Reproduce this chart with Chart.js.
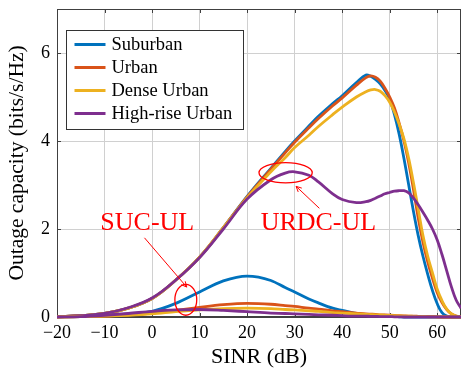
<!DOCTYPE html>
<html>
<head>
<meta charset="utf-8">
<script src="https://cdn.jsdelivr.net/npm/chart.js@4.4.0/dist/chart.umd.min.js"></script>
<style>
html, body { margin: 0; padding: 0; background: #fff; }
#wrap { width: 461px; height: 368px; }
</style>
</head>
<body>
<div id="wrap"><canvas id="chart"></canvas></div>
<script>
// SINR (dB) sample points shared by all curves
const sinr = [-20,-15,-10,-5,0,5,10,15,20,25,28,30,33,35,38,40,43,45,46,47,48,49,50,51,52,53,54,55,56,57,58,59,60,61,62,63,64,65];

const labels = ["Suburban", "Urban", "Dense Urban", "High-rise Urban"];
const colors = ["#0072BD", "#D95319", "#EDB120", "#7E2F8E"];

// URDC-UL (upper curves)
const urdcSuburban = [0.01,0.03,0.08,0.2,0.42, 0.84,1.36,2.03,2.74,3.38, 3.76,4.0,4.34,4.56,4.85, 5.03,5.33,5.5,5.47,5.4, 5.3,5.15,4.95,4.6,4.15, 3.6,3.0,2.4,1.85,1.38, 0.97,0.6,0.3,0.1,0.02, 0,0,0];
const urdcUrban    = [0.01,0.03,0.08,0.2,0.42, 0.84,1.36,2.03,2.73,3.36, 3.73,3.97,4.3,4.51,4.8, 4.98,5.27,5.44,5.48,5.45, 5.36,5.2,5.0,4.75,4.4, 4.0,3.5,2.9,2.25,1.7, 1.25,0.88,0.55,0.33,0.17, 0.07,0.02,0];
const urdcDense    = [0.01,0.03,0.08,0.2,0.42, 0.84,1.36,2.03,2.71,3.3, 3.62,3.85,4.13,4.33,4.6, 4.77,5.0,5.12,5.16,5.17, 5.13,5.03,4.88,4.66,4.38, 4.05,3.6,3.05,2.45,1.85, 1.38,1.0,0.63,0.37,0.18, 0.07,0.02,0];
const urdcHighrise = [0.01,0.03,0.08,0.21,0.43, 0.84,1.35,2.0,2.68,3.12, 3.27,3.3,3.22,3.07,2.8, 2.67,2.6,2.62,2.65,2.7, 2.75,2.8,2.83,2.86,2.87, 2.87,2.82,2.7,2.55,2.38, 2.2,2.0,1.75,1.42,1.05, 0.68,0.38,0.2];

// SUC-UL (lower curves)
const sucSuburban = [0,0.01,0.03,0.07,0.13, 0.31,0.57,0.82,0.93,0.83, 0.67,0.57,0.41,0.32,0.2, 0.15,0.08,0.05,0.04,0.03, 0.025,0.02,0.01,0.01,0.005, 0,0,0,0,0, 0,0,0,0,0, 0,0,0];
const sucUrban    = [0,0.01,0.02,0.05,0.09, 0.15,0.22,0.28,0.31,0.29, 0.26,0.24,0.2,0.18,0.14, 0.12,0.09,0.07,0.065,0.06, 0.05,0.045,0.04,0.035,0.03, 0.025,0.02,0.02,0.015,0.01, 0.01,0.01,0.005,0,0, 0,0,0];
const sucDense    = [0,0.01,0.02,0.04,0.07, 0.12,0.16,0.19,0.2,0.19, 0.17,0.16,0.14,0.13,0.1, 0.09,0.07,0.06,0.055,0.05, 0.045,0.04,0.035,0.03,0.025, 0.02,0.02,0.015,0.01,0.01, 0.005,0.005,0,0,0, 0,0,0];
const sucHighrise = [0,0.01,0.04,0.08,0.13, 0.16,0.17,0.15,0.12,0.09, 0.08,0.07,0.06,0.05,0.04, 0.03,0.02,0.02,0.015,0.015, 0.01,0.01,0.01,0.005,0.005, 0,0,0,0,0, 0,0,0,0,0, 0,0,0];

const xTicks = [-20,-10,0,10,20,30,40,50,60];
const yTicks = [0,2,4,6];

const SERIF = '"Liberation Serif", "Times New Roman", serif';
const RED = "#ff0000";

// red annotations, in data units
const notes = [
  { text: "SUC-UL", x: -1, y: 2.14, ex: 7.1, ey: 0.39, rx: 2.3, ry: 0.35, from: [-1.6, 1.8], to: [7.3, 0.68] },
  { text: "URDC-UL", x: 35, y: 2.14, ex: 28.1, ey: 3.28, rx: 5.6, ry: 0.23, from: [35.2, 2.47], to: [30.3, 2.97] }
];

const upper = [urdcSuburban, urdcUrban, urdcDense, urdcHighrise];
const lower = [sucSuburban, sucUrban, sucDense, sucHighrise];

function mkSet(ys, i, label, order, smooth) {
  return {
    label: label,
    data: sinr.map((x, j) => ({ x: x, y: ys[j] })),
    borderColor: colors[i],
    backgroundColor: colors[i],
    borderWidth: 2.8,
    pointRadius: 0,
    tension: 0.4,
    cubicInterpolationMode: smooth ? "default" : "monotone",
    clip: { left: 0, top: 0, right: 0, bottom: 3 },
    order: order
  };
}

const datasets = upper.map((ys, i) => mkSet(ys, i, labels[i], 8 - i, true))
  .concat(lower.map((ys, i) => mkSet(ys, i, "SUC " + labels[i], 4 - i, false)));

const fmt = v => (v < 0 ? "\u2212" + Math.abs(v) : String(v));

const framePlugin = {
  id: "frame",
  beforeDatasetsDraw(chart) {
    const { ctx, chartArea: a, scales } = chart;
    ctx.save();
    ctx.strokeStyle = "#404040";
    ctx.lineWidth = 1;
    ctx.strokeRect(a.left + 0.5, a.top + 0.5, a.right - a.left - 1, a.bottom - a.top - 1);
    ctx.beginPath();
    xTicks.forEach(v => {
      const px = Math.round(scales.x.getPixelForValue(v)) + 0.5;
      ctx.moveTo(px, a.bottom); ctx.lineTo(px, a.bottom - 4);
      ctx.moveTo(px, a.top); ctx.lineTo(px, a.top + 4);
    });
    yTicks.forEach(v => {
      const py = Math.round(scales.y.getPixelForValue(v)) + 0.5;
      ctx.moveTo(a.left, py); ctx.lineTo(a.left + 4, py);
      ctx.moveTo(a.right, py); ctx.lineTo(a.right - 4, py);
    });
    ctx.stroke();
    ctx.restore();
  },
  afterDatasetsDraw(chart) {
    const { ctx, chartArea: a, scales } = chart;
    const sx = scales.x, sy = scales.y;
    ctx.save();
    // legend box
    const bx = a.left + 9.5, by = a.top + 21.5, bw = 177, bh = 99;
    ctx.fillStyle = "#fff";
    ctx.fillRect(bx, by, bw, bh);
    ctx.strokeStyle = "#333";
    ctx.lineWidth = 1;
    ctx.strokeRect(bx, by, bw, bh);
    ctx.font = "18.5px " + SERIF;
    ctx.textBaseline = "middle";
    ctx.textAlign = "left";
    labels.forEach((lab, i) => {
      const ry = by + 14 + i * 23;
      ctx.strokeStyle = colors[i];
      ctx.lineWidth = 3;
      ctx.beginPath();
      ctx.moveTo(bx + 8, ry); ctx.lineTo(bx + 39, ry);
      ctx.stroke();
      ctx.fillStyle = "#000";
      ctx.fillText(lab, bx + 45, ry + 1);
    });
    // red notes
    ctx.strokeStyle = RED;
    ctx.fillStyle = RED;
    ctx.font = "26px " + SERIF;
    ctx.textAlign = "center";
    notes.forEach(n => {
      ctx.fillText(n.text, sx.getPixelForValue(n.x), sy.getPixelForValue(n.y));
      const cx = sx.getPixelForValue(n.ex), cy = sy.getPixelForValue(n.ey);
      const rx = Math.abs(sx.getPixelForValue(n.ex + n.rx) - cx);
      const ry = Math.abs(sy.getPixelForValue(n.ey + n.ry) - cy);
      ctx.lineWidth = 1.3;
      ctx.beginPath();
      ctx.ellipse(cx, cy, rx, ry, 0, 0, Math.PI * 2);
      ctx.stroke();
      const x0 = sx.getPixelForValue(n.from[0]), y0 = sy.getPixelForValue(n.from[1]);
      const x1 = sx.getPixelForValue(n.to[0]), y1 = sy.getPixelForValue(n.to[1]);
      const ang = Math.atan2(y1 - y0, x1 - x0);
      ctx.lineWidth = 1;
      ctx.beginPath();
      ctx.moveTo(x0, y0); ctx.lineTo(x1, y1);
      [-0.45, 0.45].forEach(d => {
        ctx.moveTo(x1, y1);
        ctx.lineTo(x1 - 6 * Math.cos(ang + d), y1 - 6 * Math.sin(ang + d));
      });
      ctx.stroke();
    });
    ctx.restore();
  }
};

new Chart(document.getElementById("chart"), {
  type: "line",
  data: { datasets: datasets },
  options: {
    responsive: true,
    maintainAspectRatio: false,
    animation: false,
    layout: { padding: { top: 9, right: 0, left: 0, bottom: 0 } },
    plugins: {
      legend: { display: false },
      tooltip: { enabled: false }
    },
    scales: {
      x: {
        type: "linear",
        min: -20,
        max: 65,
        afterBuildTicks: s => { s.ticks = xTicks.map(v => ({ value: v })); },
        afterFit: s => { s.height = 51; s.paddingLeft = 0; s.paddingRight = 0; },
        grid: { color: "#d0d0d0", lineWidth: 1, drawTicks: false },
        border: { display: true, color: "#404040" },
        ticks: { color: "#000", padding: 5, maxRotation: 0, font: { family: SERIF, size: 18 }, callback: v => fmt(v) },
        title: { display: true, text: "SINR (dB)", color: "#000", padding: { top: 0, bottom: 0 }, font: { family: SERIF, size: 22, lineHeight: 1 } }
      },
      y: {
        type: "linear",
        min: 0,
        max: 7,
        afterBuildTicks: s => { s.ticks = yTicks.map(v => ({ value: v })); },
        afterFit: s => { s.width = 57; s.paddingTop = 0; s.paddingBottom = 0; },
        grid: { color: "#d0d0d0", lineWidth: 1, drawTicks: false },
        border: { display: true, color: "#404040" },
        ticks: { color: "#000", padding: 7, font: { family: SERIF, size: 18 }, callback: v => fmt(v) },
        title: { display: true, text: "Outage capacity (bits/s/Hz)", color: "#000", padding: { top: 7, bottom: 0 }, font: { family: SERIF, size: 21.5, lineHeight: 1 } }
      }
    }
  },
  plugins: [framePlugin]
});
</script>
</body>
</html>
